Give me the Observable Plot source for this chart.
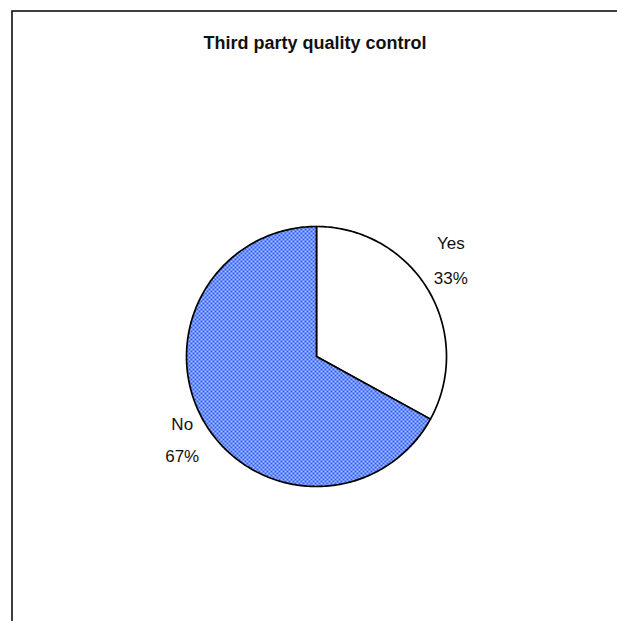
<!DOCTYPE html>
<html>
<head>
<meta charset="utf-8">
<script src="https://cdn.jsdelivr.net/npm/d3@7"></script>
<script src="https://cdn.jsdelivr.net/npm/@observablehq/plot@0.6"></script>
<style>
  html, body { margin: 0; padding: 0; background: #fff; }
  #chart svg { display: block; }
</style>
</head>
<body>
<div id="chart"></div>
<script>
// Survey answers
const categories = ["Yes", "No"];
const shares = [33, 67];
const labels = ["33%", "67%"];
const title = "Third party quality control";

const W = 617, H = 621;
const cx = 316, cy = 356, R = 130; // pie centre and radius in pixels

// slice geometry from d3.pie, clockwise from 12 o'clock
const pie = d3.pie().sort(null).value(d => d.value);
const arcs = pie(categories.map((c, i) => ({category: c, value: shares[i], label: labels[i]})));

const outline = [];
arcs.forEach(a => {
  outline.push({slice: a.data.category, x: 0, y: 0});
  const n = Math.max(2, Math.ceil((a.endAngle - a.startAngle) / (Math.PI / 180)));
  for (let k = 0; k <= n; k++) {
    const t = a.startAngle + (a.endAngle - a.startAngle) * k / n;
    outline.push({slice: a.data.category, x: Math.sin(t), y: Math.cos(t)});
  }
  outline.push({slice: a.data.category, x: 0, y: 0});
});

// label anchors just outside each slice's mid-angle, nudged vertically
const nudge = {Yes: -16, No: 5};
const gap = {Yes: 17.5, No: 16};
const labelPos = arcs.map(a => {
  const m = (a.startAngle + a.endAngle) / 2;
  const r = 1.2;
  return {name: a.data.category, pct: a.data.label, x: r * Math.sin(m), y: r * Math.cos(m)};
});

const fills = {Yes: "white", No: "url(#check)"};

const font = "'Liberation Sans', Arial, sans-serif";

const chart = Plot.plot({
  width: W,
  height: H,
  margin: 0,
  style: {fontFamily: font, background: "white"},
  x: {domain: [-cx / R, (W - cx) / R], axis: null},
  y: {domain: [-(H - cy) / R, cy / R], axis: null},
  marks: [
    Plot.frame({stroke: "black", strokeWidth: 1.5, insetLeft: 11.5, insetTop: 10.5, insetRight: -5, insetBottom: -5}),
    Plot.line(outline, {
      x: "x", y: "y", z: "slice",
      fill: d => fills[d.slice],
      stroke: "black", strokeWidth: 1.7, strokeLinejoin: "round", curve: "linear"
    }),
    ...labelPos.map(d => Plot.text([d], {x: "x", y: "y", text: "name", dy: nudge[d.name] - gap[d.name], fontSize: 17, fill: "#111"})),
    ...labelPos.map(d => Plot.text([d], {x: "x", y: "y", text: "pct", dy: nudge[d.name] + gap[d.name], fontSize: 17, fill: "#111"})),
    Plot.text([title], {frameAnchor: "top", dx: 6, dy: 36, fontSize: 18, fontWeight: "bold", fill: "#111"})
  ]
});

// checkered fill used by the "No" slice
const svgNS = "http://www.w3.org/2000/svg";
const defs = document.createElementNS(svgNS, "defs");
defs.innerHTML = `
  <pattern id="check" patternUnits="userSpaceOnUse" width="4" height="4">
    <rect width="4" height="4" fill="#a9c0ff"/>
    <rect x="0" y="0" width="2" height="2" fill="#2d5cf0"/>
    <rect x="2" y="2" width="2" height="2" fill="#2d5cf0"/>
  </pattern>`;
chart.insertBefore(defs, chart.firstChild);

document.getElementById("chart").appendChild(chart);
</script>
</body>
</html>
